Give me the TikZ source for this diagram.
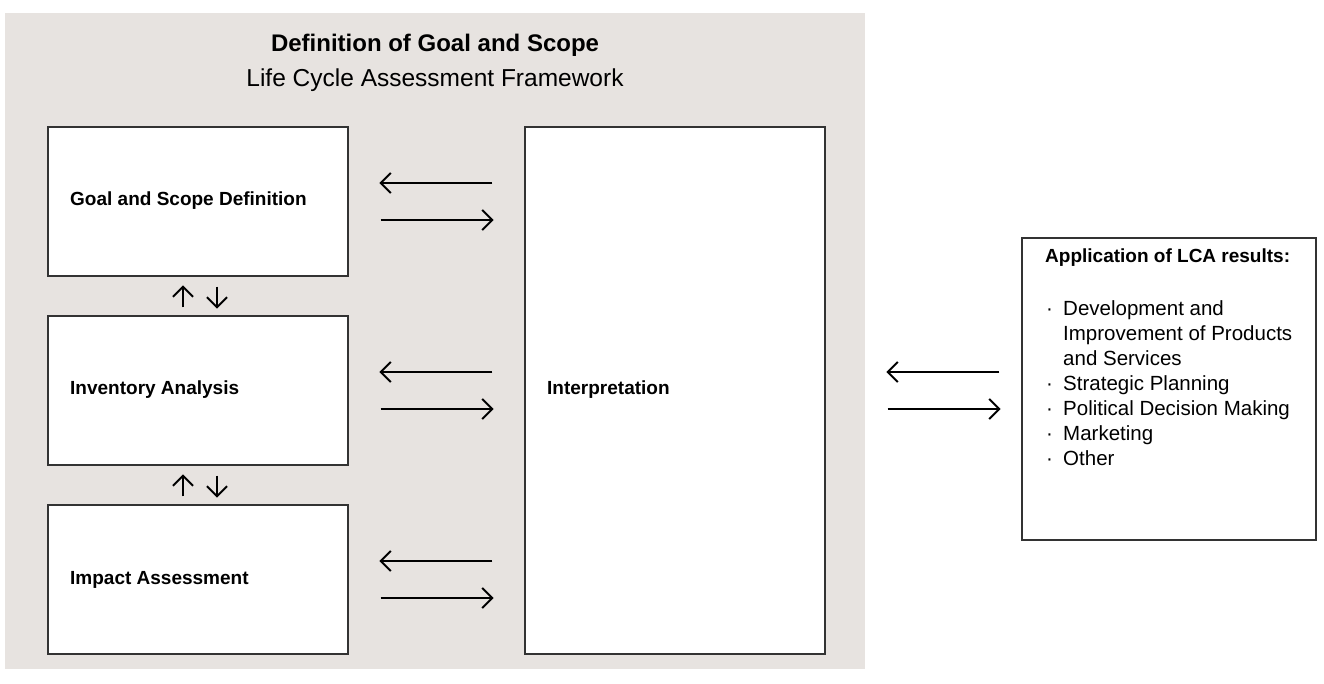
\documentclass[tikz,border=0pt]{standalone}
\usepackage{fontspec}
\setmainfont{Liberation Sans}
\usetikzlibrary{arrows.meta}
\definecolor{bggray}{HTML}{E7E3E0}
\definecolor{edge}{HTML}{333333}
\newcommand{\bul}{\makebox[18pt][l]{\hspace{1pt}·}}
\newcommand{\ind}{\hspace{18pt}}
\begin{document}
\begin{tikzpicture}[x=1pt,y=-1pt,
  panel/.style={draw=edge,line width=1.2pt,fill=white},
  lbl/.style={font=\fontsize{19}{22}\selectfont\bfseries,anchor=west,inner sep=0},
  flow/.style={line width=2pt,-{Straight Barb[length=10pt,width=20pt,line width=2pt]}}]
\useasboundingbox (0,0) rectangle (1324,684);
\fill[bggray] (5,13) rectangle (865,669);
\node[font=\fontsize{24}{28}\selectfont\bfseries] (title) at (435,45) {Definition of Goal and Scope};
\node[font=\fontsize{24.5}{28}\selectfont] (sub) at (435,80) {Life Cycle Assessment Framework};
% boxes
\node[panel,minimum width=300pt,minimum height=149pt,inner sep=0] (gs) at (198,201.5) {};
\node[panel,minimum width=300pt,minimum height=149pt,inner sep=0] (inv) at (198,390.5) {};
\node[panel,minimum width=300pt,minimum height=149pt,inner sep=0] (imp) at (198,579.5) {};
\node[panel,minimum width=300pt,minimum height=527pt,inner sep=0] (int) at (675,390.5) {};
\node[panel,minimum width=294pt,minimum height=302pt,inner sep=0] (app) at (1169,389) {};
\node[lbl] (gsl) at (70,201) {Goal and Scope Definition};
\node[lbl] (invl) at (70,390) {Inventory Analysis};
\node[lbl] (impl) at (70,580) {Impact Assessment};
\node[lbl] (intl) at (547,390) {Interpretation};
\node[lbl] (appt) at (1045,258) {Application of LCA results:};
\node[anchor=north west,inner sep=0,font=\fontsize{20.5}{25}\selectfont,align=left] (appl) at (1045,300)
 {\bul Development and\\
  \ind Improvement of Products\\
  \ind and Services\\
  \bul Strategic Planning\\
  \bul Political Decision Making\\
  \bul Marketing\\
  \bul Other};
% horizontal arrows
\foreach \r/\y in {gs/201.5,inv/390.5,imp/579.5}{
  \draw[flow] (int.west |- 0,\y-18.5) ++(-32,0) -- ++(-113,0);
  \draw[flow] (\r.east |- 0,\y+18.5) ++(32,0) -- ++(113,0);
}
\draw[flow] (app.west |- 0,372) ++(-22,0) -- ++(-113,0);
\draw[flow] (int.east |- 0,409) ++(62,0) -- ++(113,0);
% vertical arrows
\draw[flow] (inv.north -| 183,0) ++(0,-8) -- ++(0,-22);
\draw[flow] (gs.south -| 217,0) ++(0,10) -- ++(0,22);
\draw[flow] (imp.north -| 183,0) ++(0,-8) -- ++(0,-22);
\draw[flow] (inv.south -| 217,0) ++(0,10) -- ++(0,22);
\end{tikzpicture}
\end{document}
